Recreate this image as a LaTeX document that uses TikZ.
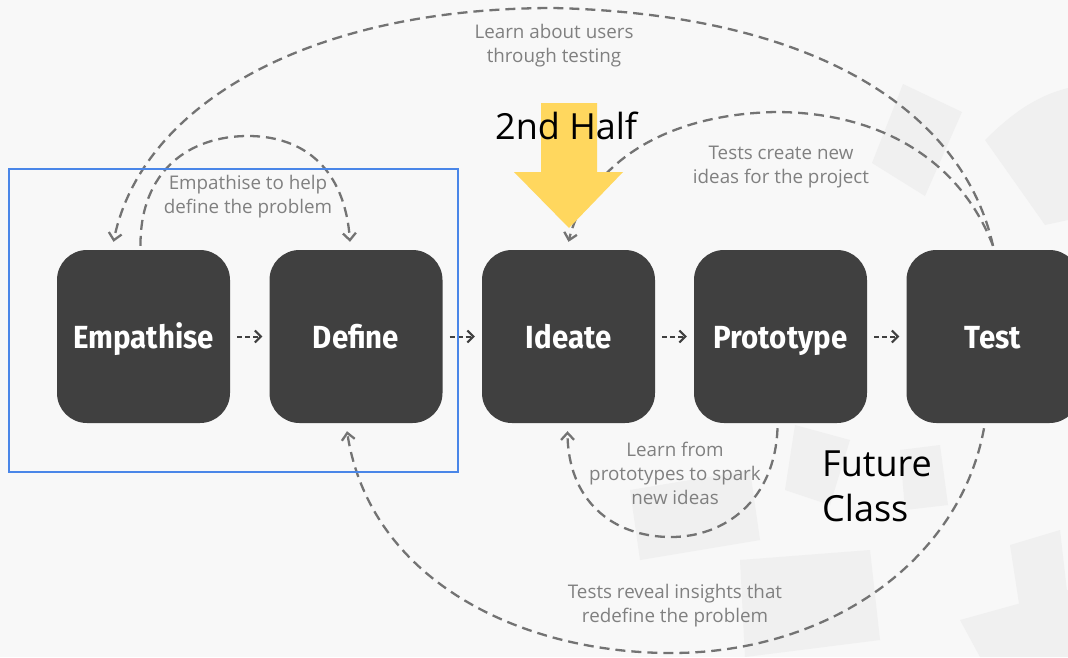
\documentclass[tikz,border=0pt]{standalone}
\usepackage{fontspec}
\setmainfont{Open Sans}
\newfontfamily\boxfont[FakeStretch=0.92]{Fira Sans Bold}
\newfontfamily\labelfont{Open Sans}
\usetikzlibrary{calc,arrows.meta}
\definecolor{bg}{HTML}{F8F8F8}
\definecolor{boxgray}{HTML}{404040}
\definecolor{dashgray}{HTML}{737373}
\definecolor{labgray}{HTML}{808080}
\definecolor{faint}{HTML}{F0F0F0}
\definecolor{frameblue}{HTML}{4A86E8}
\definecolor{hlyellow}{HTML}{FFD75E}
\tikzset{
  stagebox/.style={rounded corners=30pt, minimum width=173pt, minimum height=173pt,
    fill=boxgray, text=white, inner sep=0pt, text height=23pt, text depth=0pt,
    font=\boxfont\fontsize{32}{32}\selectfont},
  looparrow/.style={draw=dashgray, line width=2.3pt, dash pattern=on 10pt off 6pt,
    -{Straight Barb[length=7pt,width=13pt]}},
  steparrow/.style={draw=boxgray, line width=2pt, dash pattern=on 5pt off 3pt,
    -{Straight Barb[length=6pt,width=12pt]}},
  looplabel/.style={text=labgray, align=center, inner sep=0pt,
    font=\labelfont\fontsize{18.8}{24}\selectfont},
  bigtext/.style={text=black, align=left, inner sep=0pt, anchor=west,
    font=\labelfont\fontsize{36}{45}\selectfont},
  bgshape/.style={fill=faint, draw=none}
}
\begin{document}
\begin{tikzpicture}[x=1pt,y=-1pt]
\useasboundingbox (0,0) rectangle (1068,657);
\clip (0,0) rectangle (1068,657);
\fill[bg] (0,0) rectangle (1068,657);
% faint background shapes
\fill[bgshape] (903,84) -- (962,112) -- (925,196) -- (872,163) -- cycle;
\fill[bgshape] (985,140) .. controls (1015,110) and (1040,95) .. (1068,88) -- (1068,220) -- (1045,225) -- cycle;
\fill[bgshape] (630,490) -- (750,470) -- (760,540) -- (640,560) -- cycle;
\fill[bgshape] (795,425) -- (850,440) -- (830,505) -- (785,490) -- cycle;
\fill[bgshape] (900,450) -- (940,445) -- (948,505) -- (905,510) -- cycle;
\fill[bgshape] (740,560) -- (870,550) -- (880,640) -- (745,657) -- cycle;
\fill[bgshape] (1010,545) -- (1060,530) -- (1068,600) -- (1020,610) -- cycle;
\fill[bgshape] (960,620) -- (1068,590) -- (1068,657) -- (980,657) -- cycle;

% stage boxes
\node[stagebox] (emp) at (143.5,336.5) {Empathise};
\node[stagebox] (def) at (356,336.5) {Define};
\node[stagebox] (ide) at (568.5,336.5) {Ideate};
\node[stagebox] (pro) at (780.5,336.5) {Prototype};
\node[stagebox] (tes) at (993,336.5) {Test};

% step arrows
\draw[steparrow] ($(emp.east)+(7,0)$) -- ($(def.west)+(-7,0)$);
\draw[steparrow] ($(def.east)+(7,0)$) -- ($(ide.west)+(-7,0)$);
\draw[steparrow] ($(ide.east)+(7,0)$) -- ($(pro.west)+(-7,0)$);
\draw[steparrow] ($(pro.east)+(7,0)$) -- ($(tes.west)+(-7,0)$);

% loop anchor coordinates
\coordinate (tesTop) at ($(tes.north)+(0,-4)$);
\coordinate (tesBot) at ($(tes.south)+(-9,5)$);
\coordinate (empTopL) at ($(emp.north)+(-30,-8)$);
\coordinate (empTopR) at ($(emp.north)+(-3,-4)$);
\coordinate (defTop) at ($(def.north)+(-6,-8)$);
\coordinate (ideTop) at ($(ide.north)+(0,-8)$);
\coordinate (ideBot) at ($(ide.south)+(-1,8)$);
\coordinate (proBot) at ($(pro.south)+(-3,5)$);
\coordinate (defBot) at ($(def.south)+(-9,8)$);

% big top loop: Test -> Empathise
\draw[looparrow] (tesTop) .. controls (965,120) and (830,15) .. (554,8)
  .. controls (300,8) and (140,110) .. (empTopL);
% Empathise -> Define
\draw[looparrow] (empTopR) .. controls (140,170) and (190,136) .. (248,136)
  .. controls (305,136) and (345,170) .. (defTop);
% Test -> Ideate
\draw[looparrow] (tesTop) .. controls (960,160) and (880,112) .. (775,112)
  .. controls (650,115) and (585,175) .. (ideTop);
% Prototype -> Ideate (bottom)
\draw[looparrow] (proBot) .. controls (775,500) and (725,537) .. (671,537)
  .. controls (612,537) and (568,500) .. (ideBot);
% Test -> Define (bottom)
\draw[looparrow] (tesBot) .. controls (960,560) and (830,653) .. (671,653)
  .. controls (520,653) and (370,580) .. (defBot);

% loop labels
\node[looplabel] (lab1) at (554,46) {Learn about users\\through testing};
\node[looplabel] (lab2) at (248,197) {Empathise to help\\define the problem};
\node[looplabel] (lab3) at (781,167) {Tests create new\\ideas for the project};
\node[looplabel] (lab4) at (675,473) {Learn from\\prototypes to spark\\new ideas};
\node[looplabel] (lab5) at (675,606) {Tests reveal insights that\\redefine the problem};

% blue frame
\draw[frameblue, line width=2pt] (9,169) rectangle (458,472);

% yellow arrow
\fill[hlyellow] (541,103) -- (597,103) -- (597,172) -- (623,172) -- (569,228)
  -- (514,172) -- (541,172) -- cycle;

% annotations
\node[bigtext] (half) at (495,126) {2nd Half};
\node[bigtext] (future) at (822,486) {Future\\Class};
\end{tikzpicture}
\end{document}
